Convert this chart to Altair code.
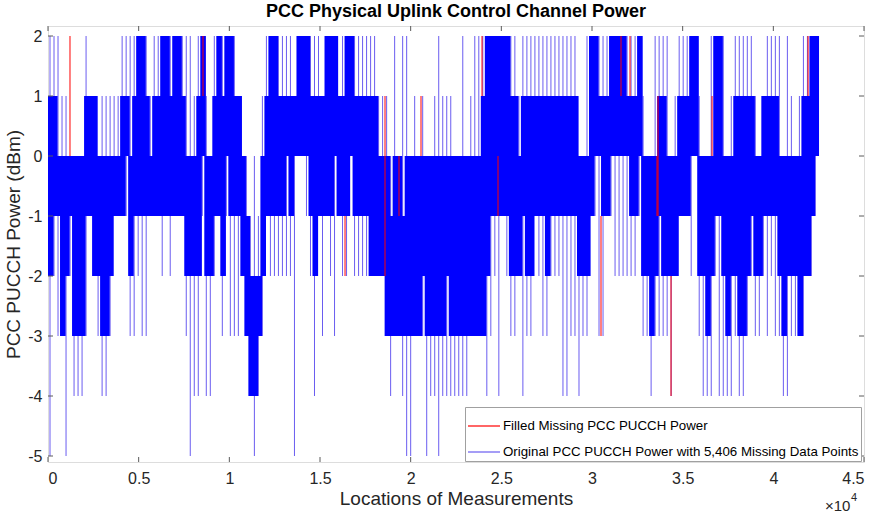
import altair as alt
import pandas as pd

# --- values, one column every ~221 locations ---
core_hi = [1,1,0,0,0,0,0,0,0,1, 1,1,0,0,0,0,0,0,1,1, 0,1,2,2,1,0,1,1,2,2,
           1,2,2,1,0,0,0,1,2,0, 0,1,2,1,2,2,1,1,0,-1, -2,-2,-2,0,1,2,2,1,1,1,
           1,1,2,2,2,1,1,1,1,2, 2,2,1,1,2,2,1,1,1,1, 1,1,0,0,0,-1,0,0,-1,0,
           0,0,0,0,0,0,0,0,0,0, 0,0,0,0,0,0,0,0,1,2, 2,2,2,2,2,1,1,0,1,1,
           1,1,1,1,1,1,1,1,1,1, 1,1,0,0,0,2,2,1,1,1, 2,2,2,2,1,1,1,2,0,0,
           0,0,1,1,0,0,0,1,1,1, 2,2,0,0,0,0,2,2,0,0, 0,1,1,1,1,1,0,0,1,1,
           1,1,0,0,0,0,0,0,1,1, 2,2]
core_lo = [-2,-1,-1,-3,-2,-1,-3,-3,-3,-1, -1,-2,-2,-3,-3,-2,-1,-1,-1,0, -2,-1,-1,-1,-1,-1,-1,-1,-1,-1,
           -1,-1,-1,-1,-2,-2,-2,-2,0,-2, -2,-1,-1,-2,0,-1,-1,-1,-2,-3, -4,-4,-3,-2,-1,-1,-1,-1,-1,0,
           -1,0,0,0,0,-1,-2,-1,-1,-1, -1,0,-1,-1,-1,0,-1,-1,-1,-1, -2,-2,-2,-2,-3,-3,-3,-3,-3,-3,
           -3,-3,-3,-2,-3,-3,-3,-3,-3,-2, -3,-3,-3,-3,-3,-3,-3,-3,-3,-2, -1,-1,-1,-1,-1,-2,-2,-2,-1,-2,
           -2,-1,-1,-1,-2,-1,-1,-1,-1,-1, -1,-1,-2,-2,-2,-1,0,0,-1,-1, 0,0,0,0,0,-1,-1,0,-2,-2,
           -3,-2,-1,-2,-2,-2,-2,-1,-1,-1, 0,0,-2,-2,-3,-2,-1,-1,-2,-3, -2,-2,-3,-3,-2,-1,-2,-2,-1,-1,
           -1,-1,-2,-3,-2,-2,-2,-3,-2,-2, -1,0]
spike_hi = [2,2,2,1,1,0,0,0,0,2, 1,1,0,1,1,1,1,1,2,2, 2,2,2,2,2,1,2,2,2,2,
            2,2,2,2,2,2,1,2,2,1, 0,2,2,2,2,2,2,1,0,0, -1,0,-1,1,2,2,2,2,2,2,
            2,1,2,2,2,2,2,2,1,2, 2,2,1,2,2,2,2,2,2,2, 2,2,1,1,1,0,2,0,2,2,
            0,1,0,1,0,0,1,2,1,1, 1,0,0,2,0,1,2,2,2,2, 2,2,2,2,2,2,2,1,2,2,
            2,2,2,2,2,2,2,2,2,2, 2,2,0,0,2,2,2,2,2,2, 2,2,2,2,2,2,2,2,1,0,
            0,2,2,2,2,0,1,2,2,2, 2,2,1,0,0,2,2,2,2,0, 1,2,2,2,2,2,1,0,1,2,
            2,2,2,0,2,1,0,1,2,2, 2,2]
spike_lo = [-5,-2,-3,-3,-5,-2,-4,-4,-4,-3, -1,-2,-3,-4,-4,-3,-1,-1,-1,-1, -3,-3,-2,-3,-3,-1,-1,-1,-2,-1,
            -2,-1,-1,-1,-3,-5,-4,-4,-1,-4, -4,-2,-1,-3,-1,-3,-3,-3,-2,-3, -4,-5,-4,-3,-1,-2,-2,-2,-2,-2,
            -2,-5,0,0,-1,-2,-4,-1,-3,-1, -2,-3,-1,-2,-2,0,-2,-2,-2,-2, -2,-2,-2,-2,-3,-4,-3,-3,-4,-5,
            -5,-3,-3,-3,-5,-4,-4,-5,-4,-4, -4,-4,-4,-4,-4,-3,-3,-3,-3,-4, -3,-2,-4,-1,-2,-3,-3,-2,-4,-3,
            -3,-1,-2,-3,-3,-2,-2,-2,-4,-4, -3,-3,-4,-3,-3,-1,-1,-3,-3,-1, -1,-2,-2,-2,-2,-2,-2,-1,-3,-3,
            -4,-3,-3,-3,-3,-4,-2,-1,-1,-1, -2,0,-3,-4,-4,-4,-2,-4,-4,-4, -4,-3,-4,-4,-3,-2,-3,-3,-2,-3,
            -2,-3,-3,-4,-4,-3,-3,-3,-3,-2, -2,-1]
red_loc = [1213, 8548, 16380, 18585, 19357, 20570, 23935, 24817, 30497, 31600, 32096, 33586, 33641, 34358, 36620, 41915]
red_lo = [0, 1, -2, -2, -1, 0, 1, -1, -3, 1, 1, -1, -1, -4, 0, 1]
red_hi = [2, 2, -1, 1, 0, 1, 2, 0, -1, 2, 2, 0, 1, -2, 1, 2]
x_ticks = [0, 5000, 10000, 15000, 20000, 25000, 30000, 35000, 40000, 45000]
y_ticks = [-5, -4, -3, -2, -1, 0, 1, 2]
series_names = ["Filled Missing PCC PUCCH Power",
                "Original PCC PUCCH Power with 5,406 Missing Data Points"]

STEP = 221
FONT = "Liberation Sans"
W, H = 816, 436

cols = pd.DataFrame({"core_hi": core_hi, "core_lo": core_lo,
                     "spike_hi": spike_hi, "spike_lo": spike_lo})
cols["loc"] = [i * STEP for i in range(len(cols))]
cols["loc_end"] = cols["loc"] + STEP * 1.4
cols["mid"] = cols["loc"] + STEP / 2
cols["series"] = series_names[1]

red = pd.DataFrame({"loc": red_loc, "lo": red_lo, "hi": red_hi, "series": series_names[0]})
xt = pd.DataFrame({"t": x_ticks})
yt = pd.DataFrame({"t": y_ticks})

xscale = alt.Scale(domain=[0, 45000], nice=False, zero=False)
yscale = alt.Scale(domain=[-5.1, 2.1667], nice=False, zero=False)
cscale = alt.Scale(domain=series_names, range=["#ff0000", "#6a5cf0"])

xaxis = alt.Axis(title="Locations of Measurements", values=x_ticks,
                 labelExpr="'' + datum.value / 10000", ticks=False, domain=False,
                 grid=False, labelFontSize=16, labelFont=FONT, labelColor="#262626",
                 labelPadding=8, titleFontSize=19, titleFont=FONT,
                 titleFontWeight="normal", titleColor="#262626", titlePadding=3)
yaxis = alt.Axis(title="PCC PUCCH Power (dBm)", values=y_ticks,
                 labelExpr="'' + datum.value", ticks=False, domain=False, grid=False,
                 labelFontSize=16, labelFont=FONT, labelColor="#262626",
                 labelPadding=6, titleFontSize=19, titleFont=FONT,
                 titleFontWeight="normal", titleColor="#262626", titlePadding=4)

legend = alt.Legend(orient="none", legendX=417, legendY=381, symbolType="stroke",
                    symbolSize=1024, symbolStrokeWidth=1.2, labelFontSize=13.3, labelFont=FONT,
                    labelColor="#000000", fillColor="white", strokeColor="#a0a0a0",
                    padding=2, rowPadding=2, labelLimit=0, title=None, labelOffset=2)

spikes = alt.Chart(cols).mark_rule(strokeWidth=1).encode(
    x=alt.X("mid:Q", scale=xscale, axis=xaxis),
    y=alt.Y("spike_lo:Q", scale=yscale, axis=yaxis),
    y2="spike_hi:Q",
    color=alt.Color("series:N", scale=cscale, legend=legend),
)

core = alt.Chart(cols).mark_rect(color="#0000ff").encode(
    x=alt.X("loc:Q", scale=xscale, axis=xaxis),
    x2="loc_end:Q",
    y=alt.Y("core_lo:Q", scale=yscale, axis=yaxis),
    y2="core_hi:Q",
)

reds = alt.Chart(red).mark_rule(strokeWidth=1).encode(
    x=alt.X("loc:Q", scale=xscale, axis=xaxis),
    y=alt.Y("lo:Q", scale=yscale, axis=yaxis),
    y2="hi:Q",
    color=alt.Color("series:N", scale=cscale, legend=legend),
)

tick_color = "#5a5a5a"
xt_bottom = alt.Chart(xt).mark_rule(color=tick_color).encode(
    x=alt.X("t:Q", scale=xscale, axis=xaxis), y=alt.value(H), y2=alt.value(H - 5))
xt_top = alt.Chart(xt).mark_rule(color=tick_color).encode(
    x=alt.X("t:Q", scale=xscale, axis=xaxis), y=alt.value(0), y2=alt.value(5))
yt_left = alt.Chart(yt).mark_rule(color=tick_color).encode(
    y=alt.Y("t:Q", scale=yscale, axis=yaxis), x=alt.value(0), x2=alt.value(5))
yt_right = alt.Chart(yt).mark_rule(color=tick_color).encode(
    y=alt.Y("t:Q", scale=yscale, axis=yaxis), x=alt.value(W), x2=alt.value(W - 5))

times = alt.Chart(xt).transform_filter("datum.t == 0").mark_text(
    text="\u00d710", font=FONT, fontSize=15, align="left", baseline="middle", color="#262626"
).encode(x=alt.value(777), y=alt.value(480))
exp4 = alt.Chart(xt).transform_filter("datum.t == 0").mark_text(
    text="4", font=FONT, fontSize=11, align="left", baseline="middle", color="#262626"
).encode(x=alt.value(803), y=alt.value(472))

chart = alt.layer(spikes, core, reds, xt_bottom, xt_top, yt_left, yt_right, times, exp4).properties(
    width=W, height=H,
    title=alt.Title("PCC Physical Uplink Control Channel Power", fontSize=18, font=FONT,
                    fontWeight="bold", color="#000000", anchor="middle", offset=5),
    autosize=alt.AutoSizeParams(type="none"),
    padding={"left": 48, "top": 26, "right": 18, "bottom": 54},
).configure_view(stroke="#9a9a9a", strokeWidth=1).configure(background="white")

chart.save("out.html", embed_options={"renderer": "svg", "actions": False})
